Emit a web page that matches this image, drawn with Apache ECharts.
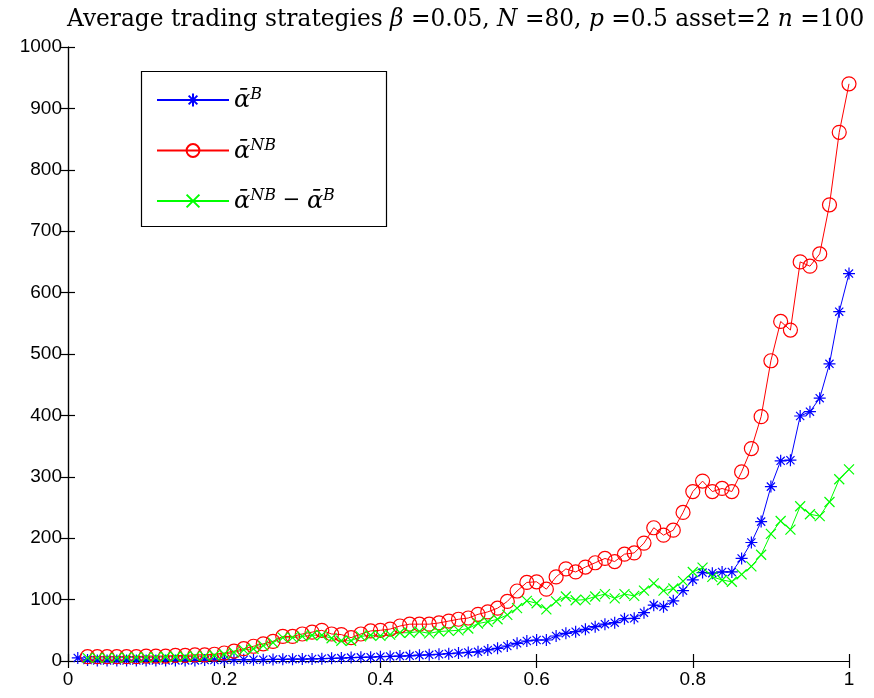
<!DOCTYPE html>
<html><head><meta charset="utf-8">
<script src="https://cdn.jsdelivr.net/npm/echarts@6/dist/echarts.min.js"></script>
<style>html,body{margin:0;padding:0;background:#fff}#c{width:874px;height:698px}</style>
</head><body><div id="c"></div>
<script>
// x positions (N = 80 points)
const xValues = [0.0125,0.025,0.0375,0.05,0.0625,0.075,0.0875,0.1,0.1125,0.125,0.1375,0.15,0.1625,0.175,0.1875,0.2,
0.2125,0.225,0.2375,0.25,0.2625,0.275,0.2875,0.3,0.3125,0.325,0.3375,0.35,0.3625,0.375,0.3875,0.4,
0.4125,0.425,0.4375,0.45,0.4625,0.475,0.4875,0.5,0.5125,0.525,0.5375,0.55,0.5625,0.575,0.5875,0.6,
0.6125,0.625,0.6375,0.65,0.6625,0.675,0.6875,0.7,0.7125,0.725,0.7375,0.75,0.7625,0.775,0.7875,0.8,
0.8125,0.825,0.8375,0.85,0.8625,0.875,0.8875,0.9,0.9125,0.925,0.9375,0.95,0.9625,0.975,0.9875,1];

// alpha-bar^B (blue, asterisk)
const alphaB = [5,1.5,1,1,1,1,1,1,1,1,1,1,1,1.5,1.5,2,2,2,2,2,
2.5,2.7,3,3.2,3.3,3.8,4.3,4.8,5.5,6,6.3,7,7.5,8,8.5,9.5,10,11,12,13,
14,15,18,20.6,24.4,28.8,32.6,34.2,34.2,40.7,45,47.8,51.6,55.9,60,62.4,69,
69.5,78.7,91,88.5,98,114.5,132,144,143,145,145,167,193,227,284,326,327,399,406,428,484,569,631];

// alpha-bar^NB (red, circle)
const alphaNB = [null,7,7,7,7,7,7,8,8,8,9,9,10,10,11,
13,16,20,24,28,32,40,40,44,47,50,44,43,38,44,49,50,52,57,60,60,60,62,65,68,
70,76,80,86,97,114,128,129,117,137,150,145,153,160,167,162,174,
176,192,217,205,213,242,276,293,276,281,276,308,346,398,489,553,539,650,643,663,743,861,940];

// alpha-bar^NB - alpha-bar^B (green, x)
const alphaDiff = [null,5,5,5,5,6,6,6,6,7,7,7,8,8,9,
11,14,18,20,25,
30,38,38,40,42,42,37,33,33,40,42,41,43,46,46,48,45,48,49,50,
53,61,64,68,75,86,98,94,84,97,105,99,100,105,109,102,109,
106,114.5,126.5,114.5,118,130,145,152,137,132,129,141,154,173,207,228,214,252,239,236,259,296,312];

const seriesNames = ['B', 'NB', 'D'];
const legendLabels = {
  B: '{a|ᾱ}{s|B}',
  NB: '{a|ᾱ}{s|NB}',
  D: '{a|ᾱ}{s|NB}{m| − }{a|ᾱ}{s|B}'
};

function pairs(ys) {
  return xValues.map((x, i) => ys[i] == null ? null : [x, ys[i]]).filter(Boolean);
}

const STAR = 'path://M5,0L5,10M0,5L10,5M1.6,1.6L8.4,8.4M1.6,8.4L8.4,1.6';
const XMARK = 'path://M0,0L10,10M0,10L10,0';

function mkSeries(name, ys, color, symbol, size) {
  return {
    name: name, type: 'line', data: pairs(ys), color: color,
    symbol: symbol, symbolSize: size, showAllSymbol: true, clip: false,
    lineStyle: { color: color, width: 1 },
    itemStyle: { color: 'rgba(0,0,0,0)', borderColor: color, borderWidth: 1.2 },
    emphasis: { disabled: true }, animation: false
  };
}

const tickFont = { fontFamily: "'Liberation Sans'", fontSize: 19, color: '#000' };
const axisLine = { show: true, lineStyle: { color: '#000', width: 1.2 } };
const axisTick = { show: true, inside: true, length: 7, lineStyle: { color: '#000', width: 1.2 } };

const chart = echarts.init(document.getElementById('c'), null, { renderer: 'canvas' });
chart.setOption({
  animation: false,
  backgroundColor: '#fff',
  title: {
    left: 62, top: 3,
    text: 'Average trading strategies {i|β} =0.05, {i|N} =80, {i|p} =0.5 asset=2 {i|n} =100',
    textStyle: {
      fontFamily: "'DejaVu Serif'", fontSize: 23.3, fontWeight: 'normal', color: '#000',
      rich: { i: { fontFamily: "'DejaVu Serif'", fontStyle: 'italic', fontSize: 23.3, color: '#000' } }
    }
  },
  grid: { left: 68, right: 25, top: 47, bottom: 37, containLabel: false },
  xAxis: [
    { type: 'value', min: 0, max: 1, interval: 0.2, position: 'bottom',
      axisLine: axisLine, axisTick: axisTick, splitLine: { show: false },
      axisLabel: Object.assign({ margin: 9, formatter: function (v) { return String(+v.toFixed(1)); } }, tickFont) },
    { type: 'value', min: 0, max: 1, interval: 0.2, position: 'top',
      axisLine: axisLine, axisTick: axisTick, splitLine: { show: false },
      axisLabel: { show: false } }
  ],
  yAxis: [
    { type: 'value', min: 0, max: 1000, interval: 100, position: 'left',
      axisLine: axisLine, axisTick: axisTick, splitLine: { show: false },
      axisLabel: Object.assign({ margin: 6, formatter: function (v) { return String(v); } }, tickFont) },
    { type: 'value', min: 0, max: 1000, interval: 100, position: 'right',
      axisLine: axisLine, axisTick: axisTick, splitLine: { show: false },
      axisLabel: { show: false } }
  ],
  graphic: [{
    type: 'rect', z: 3, shape: { x: 141.5, y: 71.5, width: 245, height: 155 },
    style: { fill: '#fff', stroke: '#000', lineWidth: 1.2 }
  }],
  legend: {
    z: 5, orient: 'vertical', left: 141, top: 71, padding: [16, 20, 16, 15],
    itemWidth: 72, itemHeight: 16, itemGap: 24.5, selectedMode: false,
    data: seriesNames,
    formatter: function (name) { return legendLabels[name]; },
    textStyle: {
      color: '#000', fontFamily: "'DejaVu Serif'", fontSize: 20,
      rich: {
        a: { fontFamily: "'DejaVu Serif'", fontStyle: 'italic', fontSize: 24, lineHeight: 26, verticalAlign: 'bottom', color: '#000' },
        s: { fontFamily: "'DejaVu Serif'", fontStyle: 'italic', fontSize: 16, lineHeight: 26, verticalAlign: 'top', color: '#000' },
        m: { fontFamily: "'DejaVu Serif'", fontSize: 21, lineHeight: 26, color: '#000' }
      }
    }
  },
  series: [
    mkSeries('B', alphaB, '#0000ff', STAR, 12),
    mkSeries('NB', alphaNB, '#ff0000', 'circle', 14),
    mkSeries('D', alphaDiff, '#00ff00', XMARK, 10)
  ]
});
</script></body></html>
